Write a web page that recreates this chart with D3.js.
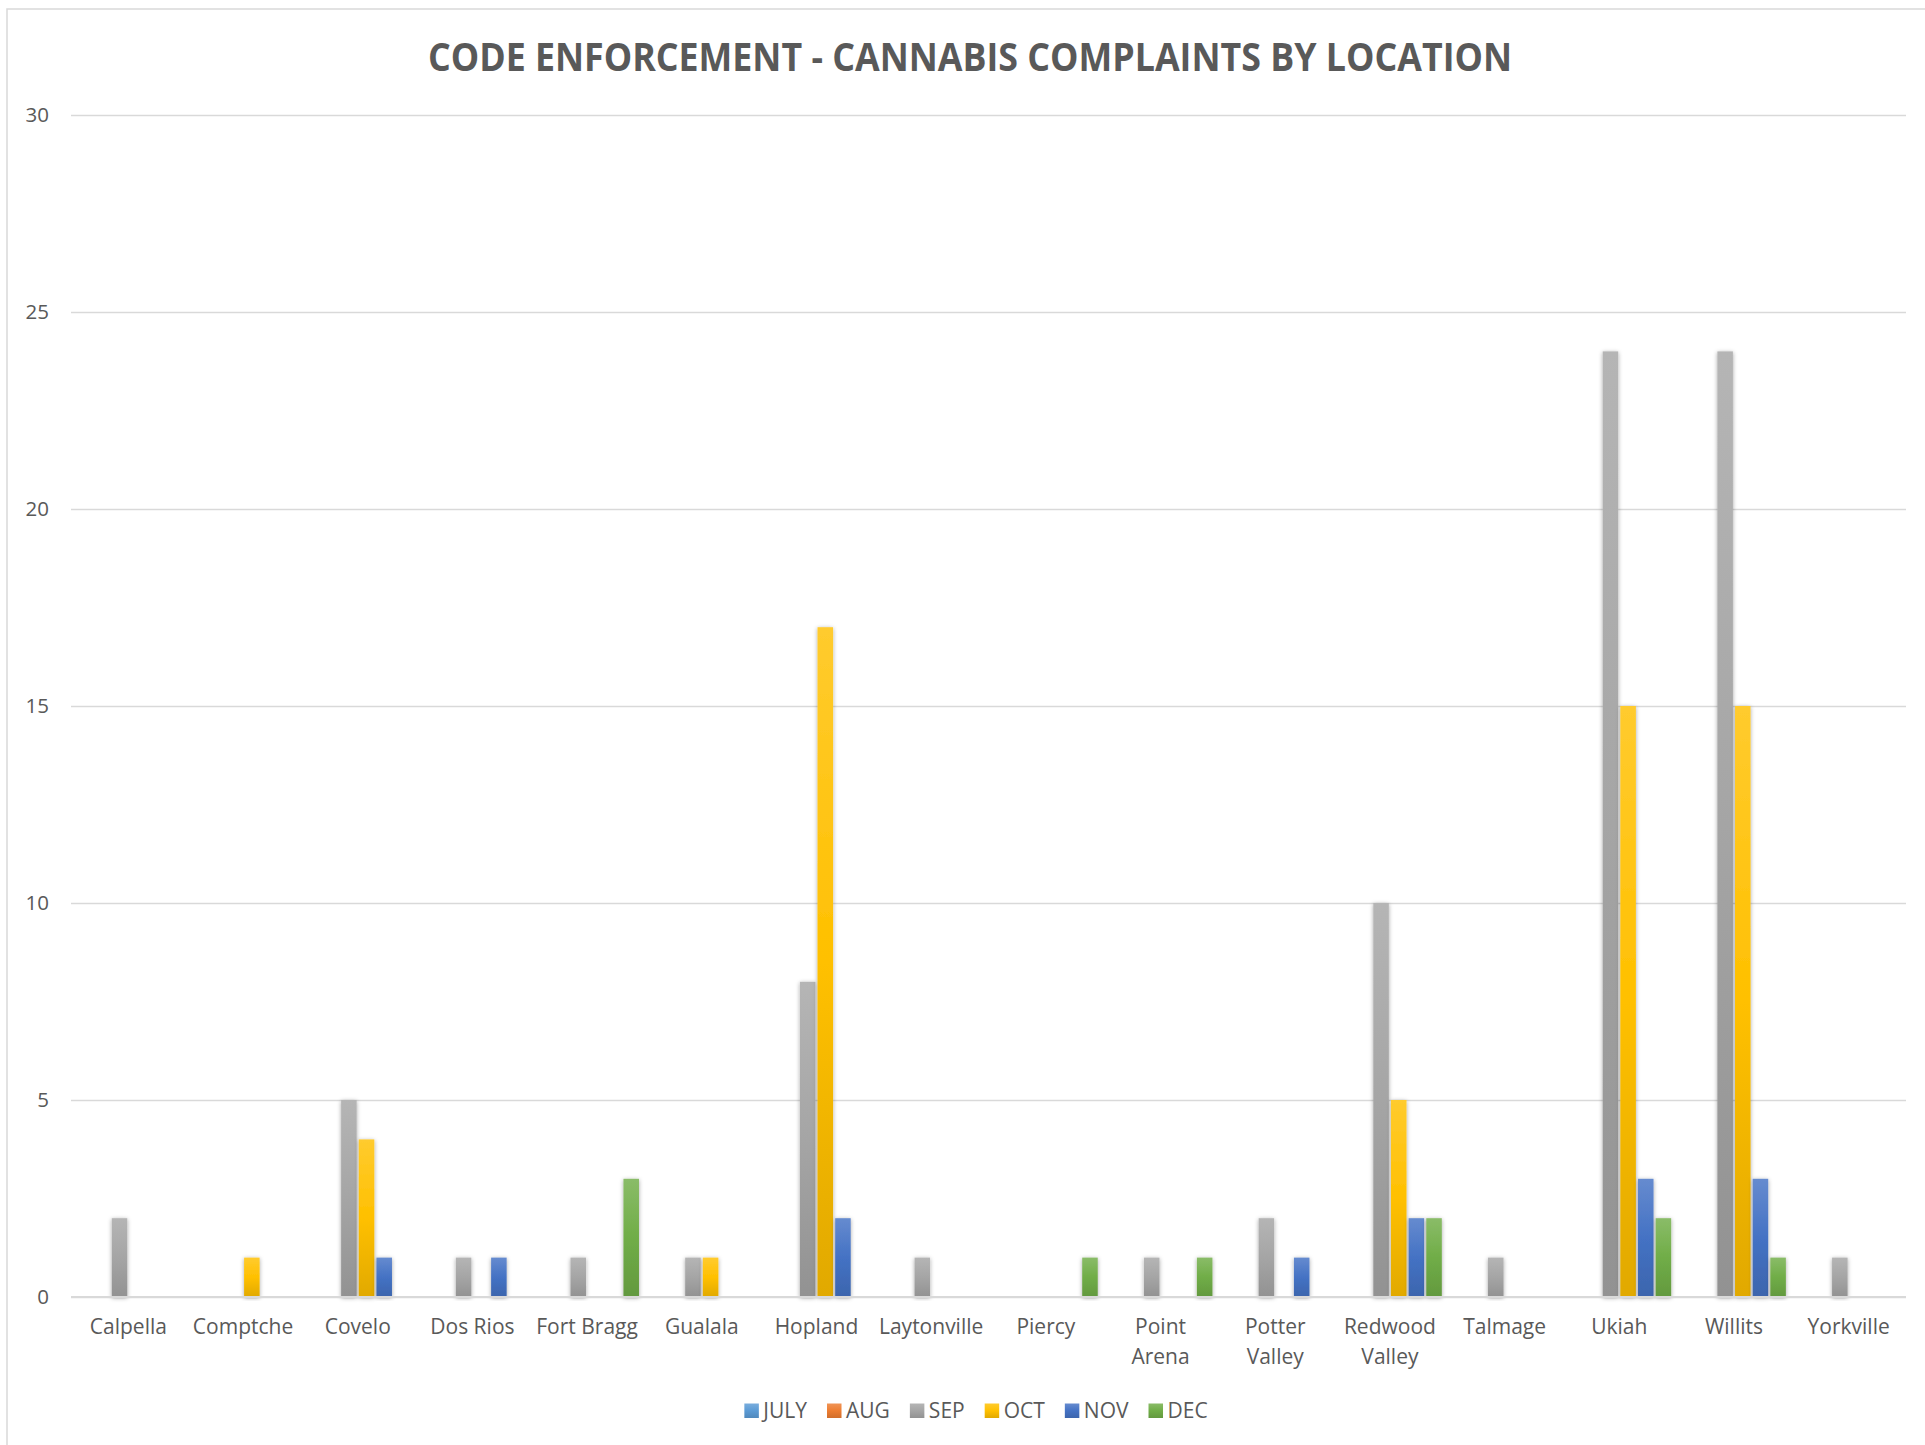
<!DOCTYPE html>
<html>
<head>
<meta charset="utf-8">
<script src="https://cdn.jsdelivr.net/npm/d3@7"></script>
<style>
  html, body { margin: 0; padding: 0; background: #fff; }
  svg { display: block; }
  text { font-family: "Open Sans", "Noto Sans", sans-serif; fill: #595959; }
</style>
</head>
<body>
<svg id="chart" width="1925" height="1445"></svg>
<script>
// Complaint counts per location, one array per month
const locations = ["Calpella", "Comptche", "Covelo", "Dos Rios", "Fort Bragg", "Gualala",
  "Hopland", "Laytonville", "Piercy", "Point Arena", "Potter Valley", "Redwood Valley",
  "Talmage", "Ukiah", "Willits", "Yorkville"];
const months = ["JULY", "AUG", "SEP", "OCT", "NOV", "DEC"];
const july = [0, 0, 0, 0, 0, 0, 0, 0, 0, 0, 0, 0, 0, 0, 0, 0];
const aug  = [0, 0, 0, 0, 0, 0, 0, 0, 0, 0, 0, 0, 0, 0, 0, 0];
const sep  = [2, 0, 5, 1, 1, 1, 8, 1, 0, 1, 2, 10, 1, 24, 24, 1];
const oct  = [0, 1, 4, 0, 0, 1, 17, 0, 0, 0, 0, 5, 0, 15, 15, 0];
const nov  = [0, 0, 1, 1, 0, 0, 2, 0, 0, 0, 1, 2, 0, 3, 3, 0];
const dec  = [0, 0, 0, 0, 3, 0, 0, 0, 1, 1, 0, 2, 0, 2, 1, 0];
const yTicks = [0, 5, 10, 15, 20, 25, 30];
const title = "CODE ENFORCEMENT - CANNABIS COMPLAINTS BY LOCATION";

const seriesValues = [july, aug, sep, oct, nov, dec];
const colors = ["#5B9BD5", "#ED7D31", "#A5A5A5", "#FFC000", "#4472C4", "#70AD47"];

const svg = d3.select("#chart");
const plot = { left: 71, right: 1906, top: 115, bottom: 1297 };

// Chart frame
svg.append("rect")
  .attr("x", 7).attr("y", 9)
  .attr("width", 1940).attr("height", 1460)
  .attr("fill", "#fff").attr("stroke", "#D9D9D9").attr("stroke-width", 1.5);

const defs = svg.append("defs");
// Vertical gradient for each series: lighter at top, darker at the foot
colors.forEach((c, i) => {
  const base = d3.rgb(c);
  const light = d3.interpolateRgb(c, "#ffffff")(0.18);
  const dark = base.darker(0.35);
  const g = defs.append("linearGradient")
    .attr("id", "grad" + i).attr("x1", 0).attr("y1", 0).attr("x2", 0).attr("y2", 1);
  g.append("stop").attr("offset", "0%").attr("stop-color", light);
  g.append("stop").attr("offset", "50%").attr("stop-color", c);
  g.append("stop").attr("offset", "100%").attr("stop-color", dark);
});
const shadow = defs.append("filter").attr("id", "shadow")
  .attr("x", "-50%").attr("y", "-10%").attr("width", "200%").attr("height", "120%");
shadow.append("feDropShadow")
  .attr("dx", 0).attr("dy", 1).attr("stdDeviation", 2.2)
  .attr("flood-color", "#000").attr("flood-opacity", 0.35);

// Scales
const x0 = d3.scaleBand().domain(locations)
  .range([plot.left, plot.right]).paddingInner(0.095).paddingOuter(0.0475);
const x1 = d3.scaleBand().domain(months)
  .range([0, x0.bandwidth()]).paddingInner(0.12).paddingOuter(0);
const y = d3.scaleLinear().domain([0, 30]).range([plot.bottom, plot.top]);

// Gridlines and value axis labels
const yAxis = d3.axisLeft(y).tickValues(yTicks).tickSize(-(plot.right - plot.left)).tickPadding(22);
const gy = svg.append("g").attr("transform", `translate(${plot.left},0)`).call(yAxis);
gy.select(".domain").remove();
gy.selectAll(".tick line").attr("stroke", "#D9D9D9").attr("stroke-width", 1.6);
gy.selectAll(".tick text")
  .attr("font-size", 20.5).attr("fill", "#595959")
  .style("font-family", '"Open Sans", sans-serif');

// Bars
const groups = svg.append("g").selectAll("g")
  .data(locations)
  .join("g")
  .attr("transform", d => `translate(${x0(d)},0)`);

groups.selectAll("rect")
  .data((loc, li) => months.map((m, si) => ({ m, si, v: seriesValues[si][li] })))
  .join("rect")
  .filter(d => d.v > 0)
  .attr("x", d => x1(d.m))
  .attr("width", x1.bandwidth())
  .attr("y", d => y(d.v))
  .attr("height", d => y(0) - y(d.v))
  .attr("fill", d => `url(#grad${d.si})`)
  .attr("filter", "url(#shadow)");

// Category axis: labels wider than the category slot wrap onto two lines
const xAxis = d3.axisBottom(x0).tickSize(0).tickPadding(0);
const gx = svg.append("g").attr("transform", `translate(0,${plot.bottom})`).call(xAxis);
gx.select(".domain").remove();
gx.selectAll(".tick text").remove();
gx.selectAll(".tick").each(function (d) {
  const t = d3.select(this).append("text")
    .attr("text-anchor", "middle")
    .attr("font-size", 21)
    .attr("fill", "#595959");
  const one = t.append("tspan").attr("x", 0).attr("y", 37).text(d);
  if (one.node().getComputedTextLength() > x0.step() * 0.95) {
    one.remove();
    d.split(" ").forEach((w, i) => {
      t.append("tspan").attr("x", 0).attr("y", 37 + i * 30).text(w);
    });
  }
});
svg.append("line")
  .attr("x1", plot.left).attr("x2", plot.right)
  .attr("y1", plot.bottom).attr("y2", plot.bottom)
  .attr("stroke", "#D9D9D9").attr("stroke-width", 1.8);

// Title
svg.append("text")
  .attr("x", 970).attr("y", 71)
  .attr("text-anchor", "middle")
  .attr("font-size", 39)
  .attr("font-weight", "bold")
  .attr("textLength", 1084)
  .attr("lengthAdjust", "spacingAndGlyphs")
  .text(title);

// Legend
const legend = svg.append("g");
let cursor = 0;
months.forEach((m, i) => {
  const item = legend.append("g").attr("transform", `translate(${cursor},0)`);
  item.append("rect").attr("x", 0).attr("y", -7).attr("width", 14.5).attr("height", 14.5)
    .attr("fill", `url(#grad${i})`);
  const t = item.append("text").attr("x", 19).attr("y", 7.5).attr("font-size", 21).text(m);
  cursor += 19 + t.node().getComputedTextLength() + 20;
});
const legendWidth = cursor - 20;
legend.attr("transform", `translate(${976 - legendWidth / 2},1410.5)`);
</script>
</body>
</html>
